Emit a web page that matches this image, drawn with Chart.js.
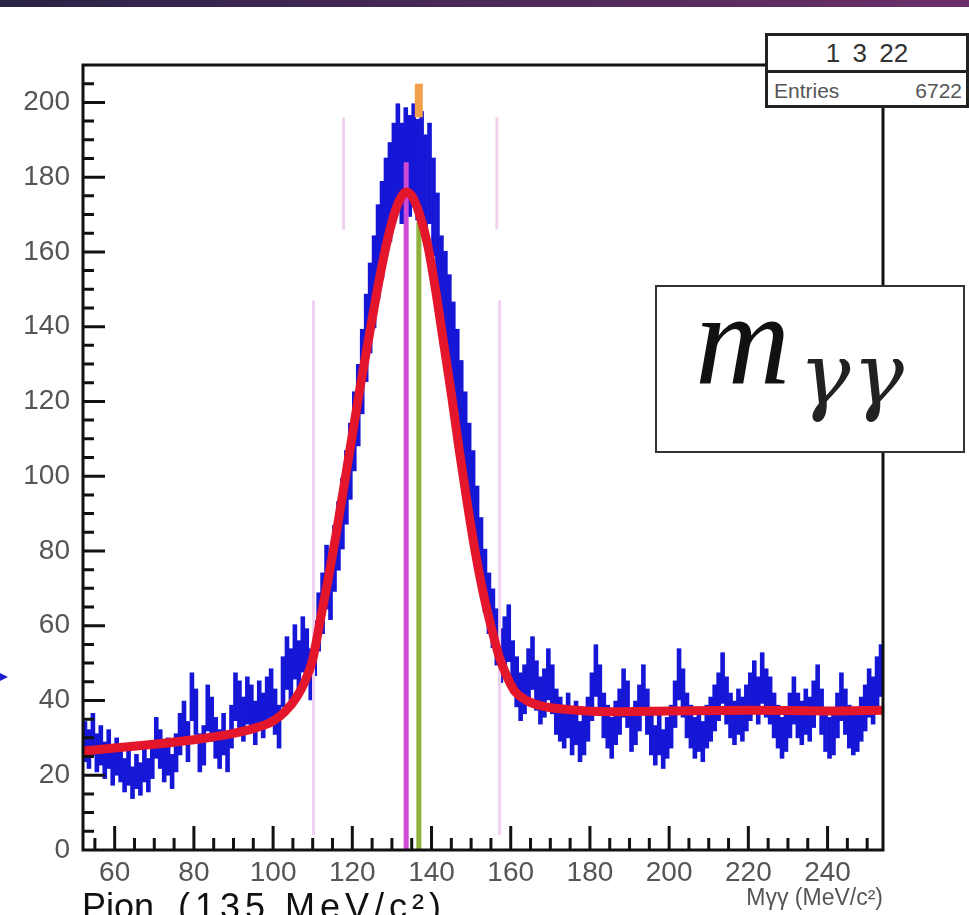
<!DOCTYPE html>
<html>
<head>
<meta charset="utf-8">
<script src="https://cdn.jsdelivr.net/npm/chart.js@4.4.1/dist/chart.umd.min.js"></script>
<style>
  html, body { margin: 0; padding: 0; background: #fff; }
  body { width: 969px; height: 915px; position: relative; overflow: hidden; font-family: "Liberation Sans", Arial, sans-serif; }
  #topbar { position: absolute; left: 0; top: 0; width: 969px; height: 7px; background: linear-gradient(to right, #2a2346, #6c2f6b); }
  #chart { position: absolute; left: 0; top: 0; }
  #stats { position: absolute; left: 765px; top: 33px; width: 204px; height: 75px; border: 3px solid #222; background: #fff; box-sizing: border-box; }
  #stats .title { height: 34px; border-bottom: 3px solid #222; text-align: center; font-size: 26px; line-height: 34px; color: #333; word-spacing: 5px; }
  #stats .row { height: 35px; line-height: 35px; font-size: 21px; color: #555; padding: 0 4px 0 6px; display: flex; justify-content: space-between; }
  #mbox { position: absolute; left: 655px; top: 285px; width: 310px; height: 168px; border: 2px solid #333; background: #fff; box-sizing: border-box; }
  #mbox .m { position: absolute; left: 38px; top: -14px; font: italic 132px/1 "Liberation Serif", serif; color: #111; }
  #mbox .gg { position: absolute; left: 142px; top: 44px; font: italic 86px/1 "DejaVu Serif", serif; color: #222; letter-spacing: 2px; }
  #arrow { position: absolute; left: 0; top: 673px; width: 0; height: 0; border-top: 4px solid transparent; border-bottom: 4px solid transparent; border-left: 8px solid #2020d0; }
  .caption { position: absolute; top: 889px; font-size: 36px; line-height: 1; color: #111; white-space: pre; }
</style>
</head>
<body>
<div id="topbar"></div>
<canvas id="chart" width="969" height="915"></canvas>
<div id="stats"><div class="title">1 3 22</div><div class="row"><span>Entries</span><span>6722</span></div></div>
<div id="mbox"><span class="m">m</span><span class="gg">γγ</span></div>
<div id="arrow"></div>
<div class="caption" style="left:82px">Pion</div>
<div class="caption" style="left:178px; letter-spacing:5px">(135 MeV/c²)</div>
<script>
// histogram: 1 MeV/c2 bins starting at 52 MeV/c2
const binLow = 52;
const binWidth = 1;
const counts = [
    29, 27, 31, 26, 28, 24, 27, 22, 25, 23,
    20, 22, 18, 21, 19, 23, 20, 24, 30, 27,
    23, 25, 21, 26, 31, 34, 29, 41, 37, 26,
    28, 38, 35, 30, 27, 31, 26, 33, 41, 39,
    35, 40, 38, 34, 39, 36, 40, 42, 37, 33,
    45, 50, 47, 53, 49, 55, 52, 47, 54, 61,
    66, 73, 70, 78, 84, 90, 97, 104, 112, 119,
    128, 137, 145, 152, 160, 166, 172, 176, 181, 186,
    181, 185, 183, 186, 182, 184, 178, 181, 172, 163,
    152, 148, 142, 135, 128, 120, 112, 104, 97, 88,
    80, 72, 66, 62, 57, 52, 55, 58, 49, 45,
    41, 43, 47, 50, 44, 40, 42, 47, 43, 37,
    35, 33, 36, 31, 34, 29, 31, 35, 41, 48,
    43, 36, 33, 30, 34, 37, 42, 39, 32, 34,
    38, 43, 37, 31, 28, 31, 27, 30, 33, 39,
    47, 42, 36, 33, 30, 32, 29, 33, 35, 38,
    41, 46, 40, 36, 34, 37, 35, 38, 41, 44,
    40, 46, 42, 40, 36, 33, 30, 32, 36, 40,
    36, 34, 37, 35, 39, 43, 37, 32, 30, 31,
    36, 41, 37, 33, 31, 32, 35, 38, 42, 40,
    45, 48
];

// fitted curve (gaussian + background)
const fitMass = [52, 60, 70, 80, 90, 96, 100, 103, 106, 108,
    110, 112, 114, 116, 118, 120, 122, 124, 126, 128,
    130, 132, 133.5, 135, 137, 139, 141, 143, 145, 147,
    149, 151, 153, 155, 157, 159, 161, 164, 168, 175,
    185, 200, 220, 240, 254];
const fitCounts = [26.5, 27.3, 28.3, 29.5, 31.2, 32.8, 34.5, 37, 41, 45,
    51, 62, 73, 85, 98, 111, 124, 136, 148, 159,
    168, 174, 176, 175, 170, 162, 150, 136, 122, 107,
    93, 80, 69, 60, 52, 46.5, 42.5, 40, 38.5, 37.5,
    37, 37.2, 37.4, 37.2, 37.4];

// window markers [mass, from, to]
const sideCuts = [[110.2, 4, 147], [157.2, 4, 147]];
const signalCuts = [[117.8, 166, 196], [156.5, 166, 196]];
const meanLine = [133.6, 0, 184];
const peakLine = [136.8, 0, 168];
const peakTip = [136.8, 196, 205];

const xTickValues = [60, 80, 100, 120, 140, 160, 180, 200, 220, 240];
const yTickValues = [0, 20, 40, 60, 80, 100, 120, 140, 160, 180, 200];

function segment(cut, color, width, order)
{
    return {
        type: 'line',
        data: [{x: cut[0], y: cut[1]}, {x: cut[0], y: cut[2]}],
        borderColor: color,
        borderWidth: width,
        pointRadius: 0,
        order: order
    };
}

const histData = counts.map((n, i) => {
    const err = Math.sqrt(n);
    return {x: binLow + (i + 0.5) * binWidth, y: [n - err, n + err]};
});

const datasets = [
    {
        type: 'bar',
        data: histData,
        backgroundColor: '#1616d6',
        barPercentage: 1,
        categoryPercentage: 1,
        order: 6
    },
    {
        type: 'line',
        data: fitMass.map((m, i) => ({x: m, y: fitCounts[i]})),
        borderColor: '#e3162b',
        borderWidth: 9,
        pointRadius: 0,
        cubicInterpolationMode: 'monotone',
        order: 2
    },
    segment(meanLine, '#d04ad6', 5, 3),
    segment(peakLine, '#8fb23c', 5, 3),
    segment(peakTip, '#f2a04c', 8, 1)
];
sideCuts.concat(signalCuts).forEach(c => datasets.push(segment(c, '#efd2ef', 3, 5)));

// ROOT style frame with ticks pointing inwards
const frameTicks = {
    id: 'frameTicks',
    afterDatasetsDraw(chart) {
        const {ctx, chartArea: a, scales: {x, y}} = chart;
        ctx.save();
        ctx.strokeStyle = '#111';
        ctx.lineWidth = 3;
        ctx.beginPath();
        for (let v = 55; v <= 250; v += 5) {
            const px = x.getPixelForValue(v);
            const len = v % 20 === 0 ? 24 : 12;
            ctx.moveTo(px, a.bottom);
            ctx.lineTo(px, a.bottom - len);
        }
        for (let v = 5; v <= 205; v += 5) {
            const py = y.getPixelForValue(v);
            const len = v % 20 === 0 ? 22 : 11;
            ctx.moveTo(a.left, py);
            ctx.lineTo(a.left + len, py);
        }
        ctx.stroke();
        ctx.strokeRect(a.left, a.top, a.right - a.left, a.bottom - a.top);
        ctx.restore();
    }
};

const tickFont = {family: 'Liberation Sans', size: 28};

new Chart(document.getElementById('chart'), {
    type: 'bar',
    data: {datasets: datasets},
    options: {
        responsive: false,
        animation: false,
        devicePixelRatio: 1,
        layout: {padding: {left: 0, top: 65, right: 86, bottom: 0}},
        plugins: {legend: {display: false}, tooltip: {enabled: false}},
        scales: {
            x: {
                type: 'linear',
                min: 52,
                max: 254,
                offset: false,
                grid: {display: false, drawTicks: false},
                border: {display: false},
                afterBuildTicks: s => { s.ticks = xTickValues.map(v => ({value: v})); },
                afterFit: s => { s.height = 65; },
                ticks: {font: tickFont, color: '#555', padding: 6, autoSkip: false, maxRotation: 0},
                title: {
                    display: true,
                    text: 'Mγγ (MeV/c²)',
                    align: 'end',
                    color: '#555',
                    font: {family: 'Liberation Sans', size: 23},
                    padding: {top: 0, bottom: 3}
                }
            },
            y: {
                min: 0,
                max: 210,
                grid: {display: false, drawTicks: false},
                border: {display: false},
                afterBuildTicks: s => { s.ticks = yTickValues.map(v => ({value: v})); },
                afterFit: s => { s.width = 83; },
                ticks: {font: tickFont, color: '#555', padding: 13, autoSkip: false}
            }
        }
    },
    plugins: [frameTicks]
});
</script>
</body>
</html>
